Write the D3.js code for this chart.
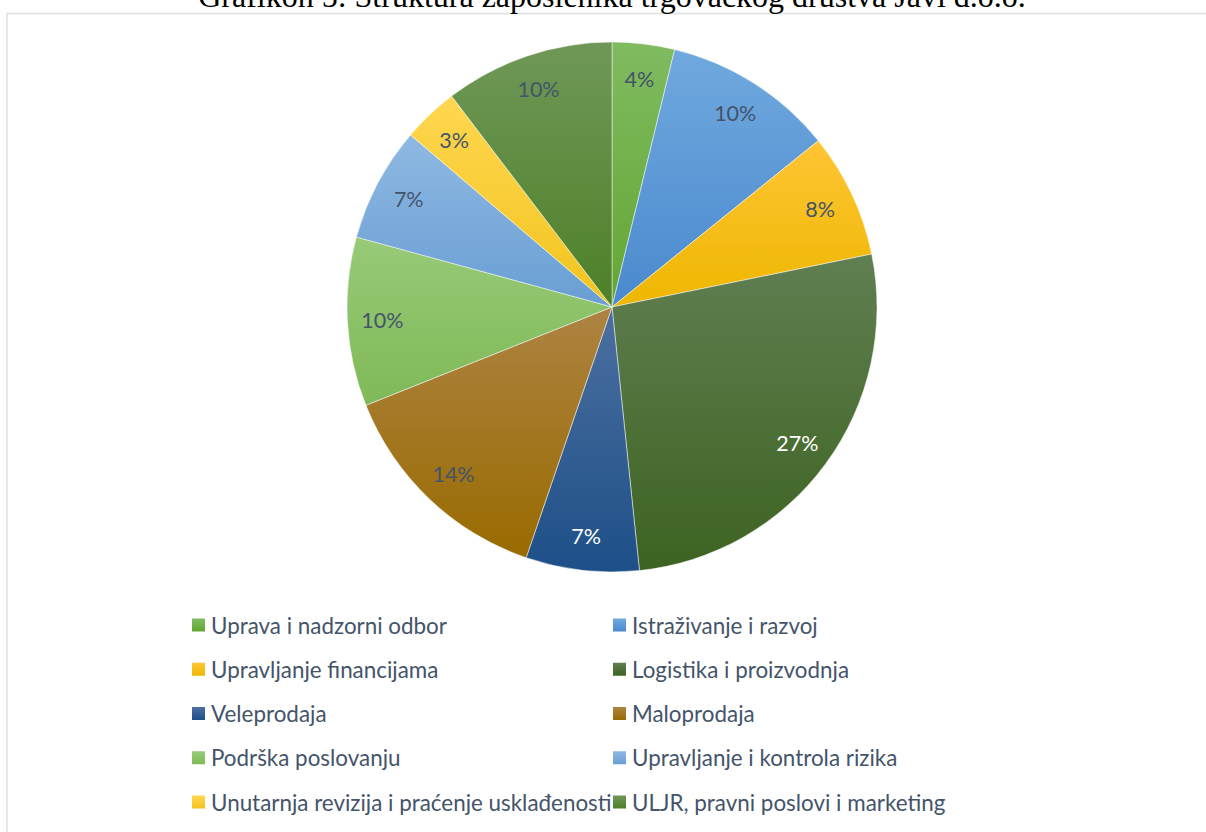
<!DOCTYPE html>
<html lang="hr">
<meta charset="utf-8">
<style>
body { margin: 0; background: #fff; }
.title { font-family: "Liberation Serif", "Times New Roman", serif; font-size: 32px; }
.lbl { font-family: Lato, "Open Sans", sans-serif; font-size: 21.5px; }
.legend text { font-family: Lato, "Open Sans", sans-serif; font-size: 22.4px; fill: #44546A; }
</style>
<body>
<script src="https://d3js.org/d3.v7.min.js"></script>
<script>
// chart data
var categories = [
  "Uprava i nadzorni odbor",
  "Istraživanje i razvoj",
  "Upravljanje financijama",
  "Logistika i proizvodnja",
  "Veleprodaja",
  "Maloprodaja",
  "Podrška poslovanju",
  "Upravljanje i kontrola rizika",
  "Unutarnja revizija i praćenje usklađenosti",
  "ULJR, pravni poslovi i marketing"
];
var shares = [3.8, 10.4, 7.6, 26.55, 6.9, 13.7, 10.3, 7.0, 3.4, 10.35];
var title = "Grafikon 5: Struktura zaposlenika trgovačkog društva Javi d.o.o.";

// gradient top / bottom colours per slice
var topColors = ["#80BB60", "#70A9DE", "#FFC535", "#607F52", "#4C70A0", "#AD8343", "#98CA77", "#8FB9E3", "#FFD750", "#6F9858"];
var botColors = ["#63A634", "#4A89CE", "#EEB700", "#3D6321", "#1D4F88", "#996B00", "#7FB958", "#699ED3", "#F2C41E", "#4D8027"];
var whiteLabels = [3, 4];

var w = 1206, h = 832;
var cx = 612, cy = 307, r = 265;

var svg = d3.select("body").append("svg")
  .attr("width", w)
  .attr("height", h);

var defs = svg.append("defs");
categories.forEach(function(c, i) {
  var g = defs.append("linearGradient")
    .attr("id", "grad" + i)
    .attr("x1", 0).attr("y1", 0).attr("x2", 0).attr("y2", 1);
  g.append("stop").attr("offset", "0%").attr("stop-color", topColors[i]);
  g.append("stop").attr("offset", "100%").attr("stop-color", botColors[i]);
});

// chart frame
svg.append("rect")
  .attr("x", 7).attr("y", 13.5)
  .attr("width", 1400).attr("height", 1000)
  .attr("fill", "#fff")
  .attr("stroke", "#DCE0E5")
  .attr("stroke-width", 1.5);

svg.append("text")
  .attr("class", "title")
  .attr("x", cx)
  .attr("y", 7)
  .attr("text-anchor", "middle")
  .text(title);

var total = d3.sum(shares);
var pie = d3.pie().sort(null).value(function(d) { return d; });
var arcs = pie(shares);
var arc = d3.arc().innerRadius(0).outerRadius(r);
var labelArc = d3.arc().innerRadius(230).outerRadius(230);

var g = svg.append("g").attr("transform", "translate(" + cx + "," + cy + ")");

g.selectAll("path")
  .data(arcs)
  .enter()
  .append("path")
  .attr("d", arc)
  .attr("fill", function(d, i) { return "url(#grad" + i + ")"; })
  .attr("stroke", "rgba(255,255,255,0.6)")
  .attr("stroke-width", 0.8);

g.selectAll("text")
  .data(arcs)
  .enter()
  .append("text")
  .attr("class", "lbl")
  .attr("transform", function(d) { return "translate(" + labelArc.centroid(d) + ")"; })
  .attr("text-anchor", "middle")
  .attr("dominant-baseline", "central")
  .attr("fill", function(d, i) { return whiteLabels.indexOf(i) >= 0 ? "#fff" : "#44546A"; })
  .text(function(d) { return Math.round(d.value / total * 100) + "%"; });

// legend, two columns
var colX = d3.scalePoint().domain([0, 1]).range([192, 613]);
var rowY = d3.scaleLinear().domain([0, 4]).range([625, 802]);

var legend = svg.append("g").attr("class", "legend");
var items = legend.selectAll("g")
  .data(categories)
  .enter()
  .append("g")
  .attr("transform", function(d, i) {
    return "translate(" + colX(i % 2) + "," + rowY(Math.floor(i / 2)) + ")";
  });

items.append("rect")
  .attr("x", 0).attr("y", -6.5)
  .attr("width", 13).attr("height", 13)
  .attr("fill", function(d, i) { return "url(#grad" + i + ")"; });

items.append("text")
  .attr("x", 19)
  .attr("y", 0)
  .attr("dominant-baseline", "central")
  .text(function(d) { return d; });
</script>
</body>
</html>
